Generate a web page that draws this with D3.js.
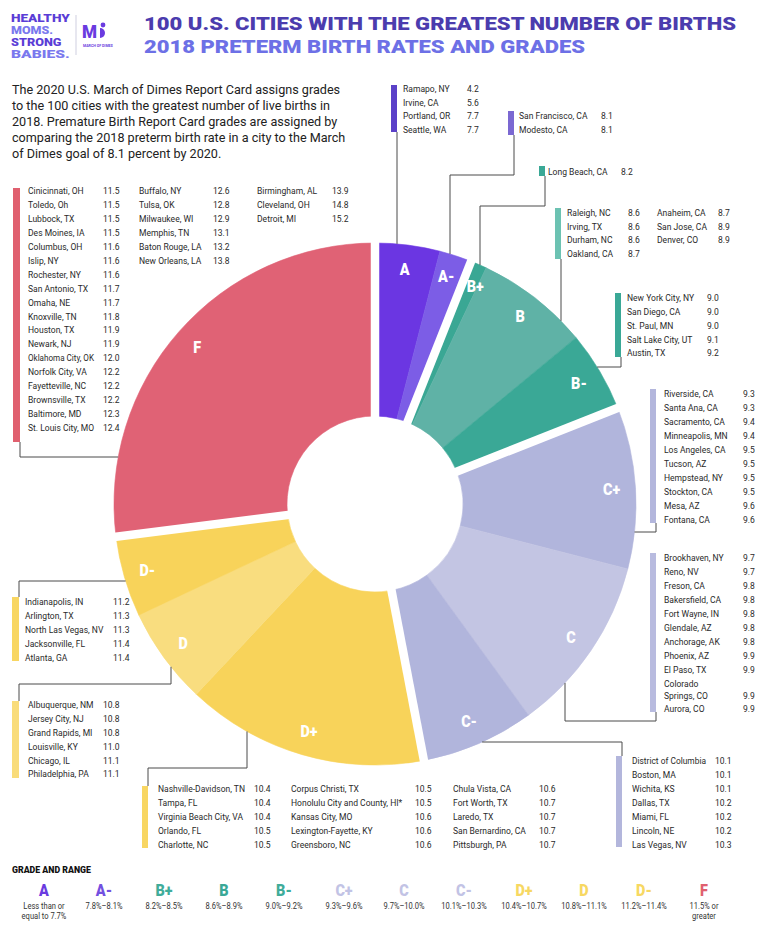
<!DOCTYPE html>
<html>
<head>
<meta charset="utf-8">
<script src="https://cdn.jsdelivr.net/npm/d3@7"></script>
<style>
  body { margin: 0; background: #fff; }
  svg { display: block; }
  text { font-family: Roboto, "Liberation Sans", sans-serif; }
</style>
</head>
<body>
<div id="chart"></div>
<script>
// ---- data ----
const grades = ["A", "A-", "B+", "B", "B-", "C+", "C", "C-", "D+", "D", "D-", "F"];
const gradeGroup = ["A", "A", "B", "B", "B", "C", "C", "C", "D", "D", "D", "F"];
const gradeRanges = ["Less than or\nequal to 7.7%", "7.8%–8.1%", "8.2%–8.5%", "8.6%–8.9%", "9.0%–9.2%",
  "9.3%–9.6%", "9.7%–10.0%", "10.1%–10.3%", "10.4%–10.7%", "10.8%–11.1%", "11.2%–11.4%", "11.5% or\ngreater"];

const citiesA = [["Ramapo, NY", "4.2"], ["Irvine, CA", "5.6"], ["Portland, OR", "7.7"], ["Seattle, WA", "7.7"]];
const citiesAminus = [["San Francisco, CA", "8.1"], ["Modesto, CA", "8.1"]];
const citiesBplus = [["Long Beach, CA", "8.2"]];
const citiesB = [["Raleigh, NC", "8.6"], ["Irving, TX", "8.6"], ["Durham, NC", "8.6"], ["Oakland, CA", "8.7"],
  ["Anaheim, CA", "8.7"], ["San Jose, CA", "8.9"], ["Denver, CO", "8.9"]];
const citiesBminus = [["New York City, NY", "9.0"], ["San Diego, CA", "9.0"], ["St. Paul, MN", "9.0"],
  ["Salt Lake City, UT", "9.1"], ["Austin, TX", "9.2"]];
const citiesCplus = [["Riverside, CA", "9.3"], ["Santa Ana, CA", "9.3"], ["Sacramento, CA", "9.4"],
  ["Minneapolis, MN", "9.4"], ["Los Angeles, CA", "9.5"], ["Tucson, AZ", "9.5"], ["Hempstead, NY", "9.5"],
  ["Stockton, CA", "9.5"], ["Mesa, AZ", "9.6"], ["Fontana, CA", "9.6"]];
const citiesC = [["Brookhaven, NY", "9.7"], ["Reno, NV", "9.7"], ["Freson, CA", "9.8"], ["Bakersfield, CA", "9.8"],
  ["Fort Wayne, IN", "9.8"], ["Glendale, AZ", "9.8"], ["Anchorage, AK", "9.8"], ["Phoenix, AZ", "9.9"],
  ["El Paso, TX", "9.9"], ["Colorado\nSprings, CO", "9.9"], ["Aurora, CO", "9.9"]];
const citiesCminus = [["District of Columbia", "10.1"], ["Boston, MA", "10.1"], ["Wichita, KS", "10.1"],
  ["Dallas, TX", "10.2"], ["Miami, FL", "10.2"], ["Lincoln, NE", "10.2"], ["Las Vegas, NV", "10.3"]];
const citiesDplus = [["Nashville-Davidson, TN", "10.4"], ["Tampa, FL", "10.4"], ["Virginia Beach City, VA", "10.4"],
  ["Orlando, FL", "10.5"], ["Charlotte, NC", "10.5"], ["Corpus Christi, TX", "10.5"],
  ["Honolulu City and County, HI*", "10.5"], ["Kansas City, MO", "10.6"], ["Lexington-Fayette, KY", "10.6"],
  ["Greensboro, NC", "10.6"], ["Chula Vista, CA", "10.6"], ["Fort Worth, TX", "10.7"], ["Laredo, TX", "10.7"],
  ["San Bernardino, CA", "10.7"], ["Pittsburgh, PA", "10.7"]];
const citiesD = [["Albuquerque, NM", "10.8"], ["Jersey City, NJ", "10.8"], ["Grand Rapids, MI", "10.8"],
  ["Louisville, KY", "11.0"], ["Chicago, IL", "11.1"], ["Philadelphia, PA", "11.1"]];
const citiesDminus = [["Indianapolis, IN", "11.2"], ["Arlington, TX", "11.3"], ["North Las Vegas, NV", "11.3"],
  ["Jacksonville, FL", "11.4"], ["Atlanta, GA", "11.4"]];
const citiesF = [["Cinicinnati, OH", "11.5"], ["Toledo, Oh", "11.5"], ["Lubbock, TX", "11.5"], ["Des Moines, IA", "11.5"],
  ["Columbus, OH", "11.6"], ["Islip, NY", "11.6"], ["Rochester, NY", "11.6"], ["San Antonio, TX", "11.7"],
  ["Omaha, NE", "11.7"], ["Knoxville, TN", "11.8"], ["Houston, TX", "11.9"], ["Newark, NJ", "11.9"],
  ["Oklahoma City, OK", "12.0"], ["Norfolk City, VA", "12.2"], ["Fayetteville, NC", "12.2"],
  ["Brownsville, TX", "12.2"], ["Baltimore, MD", "12.3"], ["St. Louis City, MO", "12.4"],
  ["Buffalo, NY", "12.6"], ["Tulsa, OK", "12.8"], ["Milwaukee, WI", "12.9"], ["Memphis, TN", "13.1"],
  ["Baton Rouge, LA", "13.2"], ["New Orleans, LA", "13.8"],
  ["Birmingham, AL", "13.9"], ["Cleveland, OH", "14.8"], ["Detroit, MI", "15.2"]];

const citiesByGrade = [citiesA, citiesAminus, citiesBplus, citiesB, citiesBminus, citiesCplus,
  citiesC, citiesCminus, citiesDplus, citiesD, citiesDminus, citiesF];

const introLines = [
  "The 2020 U.S. March of Dimes Report Card assigns grades",
  "to the 100 cities with the greatest number of live births in",
  "2018. Premature Birth Report Card grades are assigned by",
  "comparing the 2018 preterm birth rate in a city to the March",
  "of Dimes goal of 8.1 percent by 2020."
];
const logoWords = ["HEALTHY", "MOMS.", "STRONG", "BABIES."];

// ---- colours ----
const sliceColor = {
  "A": "#6b36e2", "A-": "#7c5de6", "B+": "#3aa794", "B": "#5fb2a6", "B-": "#3aa896",
  "C+": "#b1b5dc", "C": "#c3c5e3", "C-": "#b1b5dc", "D+": "#f8d35a", "D": "#f9dd7f", "D-": "#f8d35a", "F": "#e06275"
};
const barColor = {
  "A": "#5b41c8", "A-": "#7b68d2", "B+": "#3aa896", "B": "#6cc2b2", "B-": "#3aa896",
  "C+": "#b3b6dc", "C": "#b8bbdf", "C-": "#b3b6dc", "D+": "#f8d662", "D": "#f9dc7a", "D-": "#f8d662", "F": "#e0606f"
};
const legendColor = {
  "A": "#6a3be0", "A-": "#7350e0", "B+": "#40ac9a", "B": "#3aa896", "B-": "#40ac9a",
  "C+": "#c2c3e5", "C": "#c2c3e5", "C-": "#c2c3e5", "D+": "#f7d862", "D": "#f7d862", "D-": "#f7d862", "F": "#e0606f"
};

// ---- layout ----
const W = 766, H = 929;
const cx = 375, cy = 504, R = 261, r0 = 88;
const squeeze = 0.89; // the report uses a narrow type face

const svg = d3.select("#chart").append("svg").attr("width", W).attr("height", H);

// narrow a text so it reads like the condensed face of the original,
// never letting it grow past maxW
function condense(sel, f, maxW) {
  sel.each(function() {
    let w = this.getComputedTextLength() * f;
    if (maxW && w > maxW) w = maxW;
    d3.select(this).attr("textLength", w).attr("lengthAdjust", "spacingAndGlyphs");
  });
}

// header / logo
svg.append("g").style("font-weight", 900).style("font-size", "10.2px")
  .selectAll("text").data(logoWords).join("text")
  .attr("x", 11).attr("y", function(d, i) { return 21.5 + i * 12; })
  .attr("fill", function(d, i) { return i % 2 === 0 ? "#5a3dd6" : "#7a78ee"; })
  .text(function(d) { return d; })
  .attr("textLength", function(d) { return d.length * 8.4; })
  .attr("lengthAdjust", "spacingAndGlyphs");
svg.append("line").attr("x1", 76).attr("x2", 76).attr("y1", 15).attr("y2", 55)
  .attr("stroke", "#cfcfe0").attr("stroke-width", 1);
svg.append("text").attr("x", 82).attr("y", 38).attr("fill", "#6a3be0")
  .style("font-size", "18px").style("font-weight", 900).text("M")
  .call(condense, 0.95);
svg.append("path").attr("d", "M100,28 a5,5 0 0,1 0,10 z").attr("fill", "#6a3be0");
svg.append("circle").attr("cx", 103).attr("cy", 25).attr("r", 2.4).attr("fill", "#6a3be0");
svg.append("text").attr("x", 83).attr("y", 46.5).attr("fill", "#6a3be0")
  .style("font-size", "3.6px").style("font-weight", 700).text("MARCH OF DIMES");

svg.append("text").attr("x", 144).attr("y", 30).attr("fill", "#4b3cae")
  .attr("textLength", 592).attr("lengthAdjust", "spacingAndGlyphs")
  .style("font-size", "19px").style("font-weight", 900)
  .text("100 U.S. CITIES WITH THE GREATEST NUMBER OF BIRTHS");
svg.append("text").attr("x", 144).attr("y", 53).attr("fill", "#6d70e6")
  .attr("textLength", 441).attr("lengthAdjust", "spacingAndGlyphs")
  .style("font-size", "19px").style("font-weight", 900)
  .text("2018 PRETERM BIRTH RATES AND GRADES");

svg.append("g").selectAll("text").data(introLines).join("text")
  .attr("x", 12).attr("y", function(d, i) { return 94 + i * 16; })
  .attr("fill", "#222").style("font-size", "12.8px")
  .text(function(d) { return d; })
  .call(condense, 0.985);

// ---- donut ----
const pieData = d3.pie().sort(null).value(function(d) { return d.length; })(citiesByGrade);
pieData.forEach(function(d, i) { d.grade = grades[i]; d.group = gradeGroup[i]; });

const arc = d3.arc().innerRadius(r0).outerRadius(R);
const labelArc = d3.arc().innerRadius(R - 24).outerRadius(R - 24);
const labelNudge = { "B+": [6, 0], "A-": [-2, -2] };

const donut = svg.append("g").attr("transform", "translate(" + cx + "," + cy + ")");
donut.selectAll("path.slice").data(pieData).join("path")
  .attr("class", "slice")
  .attr("d", arc)
  .attr("fill", function(d) { return sliceColor[d.grade]; })
  .attr("stroke", function(d) { return sliceColor[d.grade]; })
  .attr("stroke-width", 0.6);

// white gaps between the grade groups
const groupStarts = pieData.filter(function(d, i) {
  return i === 0 || gradeGroup[i] !== gradeGroup[i - 1];
});
donut.selectAll("line.gap").data(groupStarts).join("line")
  .attr("class", "gap")
  .attr("x1", 0).attr("y1", 0)
  .attr("x2", function(d) { return Math.sin(d.startAngle) * (R + 4); })
  .attr("y2", function(d) { return -Math.cos(d.startAngle) * (R + 4); })
  .attr("stroke", "#fff").attr("stroke-width", 8.5);

donut.selectAll("text.lbl").data(pieData).join("text")
  .attr("class", "lbl")
  .attr("transform", function(d) {
    const c = labelArc.centroid(d), n = labelNudge[d.grade] || [0, 0];
    return "translate(" + (c[0] + n[0]) + "," + (c[1] + n[1]) + ")";
  })
  .attr("text-anchor", "middle").attr("dy", "0.36em")
  .attr("fill", "#fff").style("font-size", "16px").style("font-weight", 900)
  .text(function(d) { return d.grade; })
  .call(condense, 0.9);

// ---- city boxes ----
const boxes = {
  "A":  { bar: [391, 85, 6, 47],  y0: 88.3, rh: 13.8, cols: [[403, 467, 4]], leader: [[397, 132]], end: "v" },
  "A-": { bar: [508, 111, 6, 24], y0: 116, rh: 13.8, cols: [[519, 601, 2]], leader: [[514, 135], [514, 175], [450, 175]], end: "v" },
  "B+": { bar: [539, 166, 6, 10], y0: 171.5, rh: 13.8, cols: [[548, 621, 1]], leader: [[545, 176], [545, 206], [480, 206]], end: "v" },
  "B":  { bar: [555, 208, 6, 51], y0: 212.3, rh: 13.8, cols: [[567, 628, 4], [657, 718, 3]], leader: [[561, 259]], end: "v" },
  "B-": { bar: [615, 293, 6, 64], y0: 297.7, rh: 13.8, cols: [[627, 707, 5]], leader: [[621, 357], [621, 367]], end: "h" },
  "C+": { bar: [650, 389, 6, 134], y0: 394, rh: 13.9, cols: [[664, 743, 10]], leader: [[656, 523], [656, 532]], end: "h" },
  "C":  { bar: [650, 553, 6, 159], y0: 558, rh: 13.9, cols: [[664, 743, 11]], leader: [[656, 712], [656, 721], [565, 721]], end: "v" },
  "C-": { bar: [616, 756, 6, 91], y0: 761, rh: 13.9, cols: [[632, 715, 7]], leader: [[622, 756], [622, 742]], end: "h" },
  "D+": { bar: [142, 786, 6, 62], y0: 789, rh: 13.8, cols: [[158, 254, 5], [291, 415, 5], [453, 539, 5]], leader: [[148, 786], [148, 768], [247, 768]], end: "v" },
  "D":  { bar: [12, 701, 7, 77], y0: 705, rh: 13.8, cols: [[28, 103, 6]], leader: [[19, 701], [19, 684], [171, 684]], end: "v" },
  "D-": { bar: [12, 597, 7, 64], y0: 602, rh: 13.8, cols: [[25, 113, 5]], leader: [[19, 597], [19, 581]], end: "h" },
  "F":  { bar: [13, 188, 7, 254], y0: 191, rh: 13.9, cols: [[28, 103, 18], [139, 213, 6], [257, 332, 3]], leader: [[20, 442], [20, 457]], end: "h" }
};

// where a leader meets the donut's outer edge
function edgePoint(p, mode) {
  if (mode === "v") {
    const dy = Math.sqrt(R * R - (p[0] - cx) * (p[0] - cx));
    return [p[0], p[1] < cy ? cy - dy : cy + dy];
  }
  const dx = Math.sqrt(R * R - (p[1] - cy) * (p[1] - cy));
  return [p[0] < cx ? cx - dx : cx + dx, p[1]];
}

const lineGen = d3.line();
const boxLayer = svg.append("g");

grades.forEach(function(g, gi) {
  const b = boxes[g];
  const cities = citiesByGrade[gi];
  const pts = b.leader.concat([edgePoint(b.leader[b.leader.length - 1], b.end)]);
  boxLayer.append("path").attr("d", lineGen(pts))
    .attr("fill", "none").attr("stroke", "#4a4a4a").attr("stroke-width", 1);
  boxLayer.append("rect")
    .attr("x", b.bar[0]).attr("y", b.bar[1]).attr("width", b.bar[2]).attr("height", b.bar[3])
    .attr("fill", barColor[g]);

  let k = 0;
  b.cols.forEach(function(col) {
    let y = b.y0;
    for (let j = 0; j < col[2]; j++, k++) {
      const lines = cities[k][0].split("\n");
      lines.forEach(function(t, li) {
        boxLayer.append("text").attr("x", col[0]).attr("y", y + li * 12).attr("dy", "0.36em")
          .attr("fill", "#2a2a2a").style("font-size", "9.6px").text(t)
          .call(condense, squeeze, col[1] - col[0] - 9);
      });
      boxLayer.append("text").attr("x", col[1]).attr("y", y + (lines.length - 1) * 12).attr("dy", "0.36em")
        .attr("fill", "#2a2a2a").style("font-size", "9.6px").text(cities[k][1])
        .call(condense, squeeze);
      y += b.rh + (lines.length - 1) * 12;
    }
  });
});

// ---- legend ----
svg.append("text").attr("x", 12).attr("y", 873).attr("fill", "#111")
  .style("font-size", "9.5px").style("font-weight", 900).text("GRADE AND RANGE")
  .call(condense, 0.92);

const lx = d3.scalePoint().domain(grades).range([44, 704]);
const legend = svg.append("g");
legend.selectAll("text.lg").data(grades).join("text")
  .attr("class", "lg")
  .attr("x", function(d) { return lx(d); }).attr("y", 890).attr("dy", "0.36em")
  .attr("text-anchor", "middle").attr("fill", function(d) { return legendColor[d]; })
  .style("font-size", "17px").style("font-weight", 900)
  .text(function(d) { return d; })
  .call(condense, 0.85);

grades.forEach(function(g, i) {
  gradeRanges[i].split("\n").forEach(function(s, li) {
    legend.append("text").attr("x", lx(g)).attr("y", 906 + li * 10).attr("dy", "0.36em")
      .attr("text-anchor", "middle").attr("fill", "#333").style("font-size", "8.2px").text(s)
      .call(condense, 0.92);
  });
});
</script>
</body>
</html>
